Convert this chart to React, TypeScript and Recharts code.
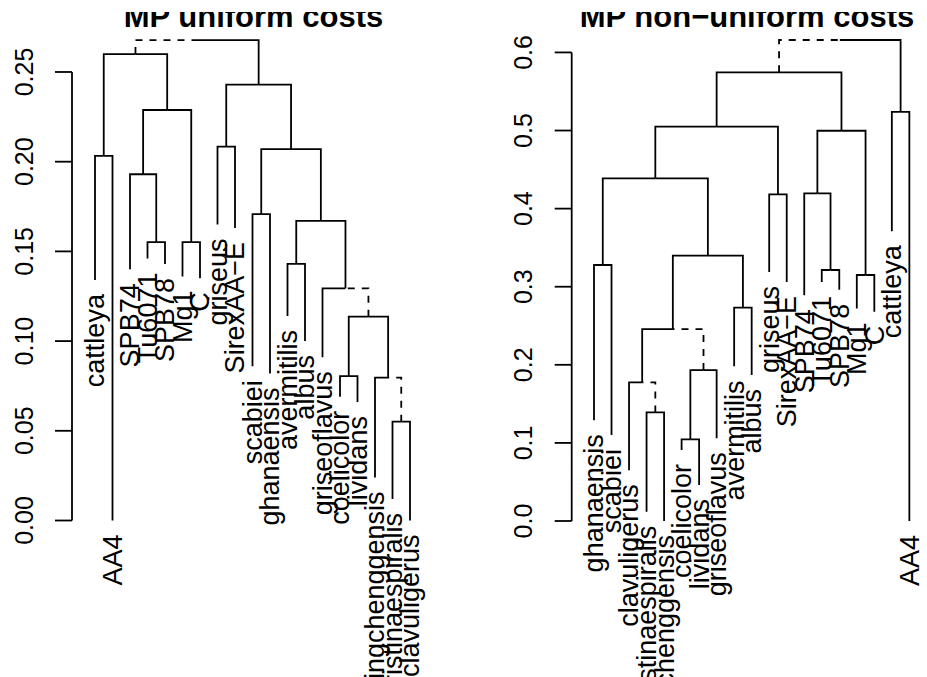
import React from 'react';
import { ComposedChart, Line, XAxis, YAxis, Scatter, ReferenceLine, Customized } from 'recharts';

const FONT = '"Liberation Sans", Arial, Helvetica, sans-serif';

// ---------- Left panel: MP uniform costs ----------
const uniformTitle = 'MP uniform costs';
const uniformLeaves = [
  'cattleya', 'AA4', 'SPB74', 'Tu6071', 'SPB78', 'Mg1', 'C', 'griseus', 'SirexAA\u2212E',
  'scabiei', 'ghanaensis', 'avermitilis', 'albus', 'griseoflavus', 'coelicolor', 'lividans',
  'bingchenggensis', 'pristinaespiralis', 'clavuligerus',
];
const uniformTips = [
  0.134, 0.0, 0.140, 0.146, 0.143, 0.136, 0.135, 0.165, 0.163,
  0.086, 0.082, 0.114, 0.100, 0.091, 0.069, 0.066,
  0.024, 0.012, 0.0,
];
// merges: negative = leaf (1-based), positive = earlier merge row (1-based)
const uniformMerges: [number, number][] = [
  [-1, -2], [-4, -5], [-3, 2], [-6, -7], [3, 4], [1, 5],
  [-8, -9], [-10, -11], [-12, -13], [-15, -16], [-18, -19], [-17, 11],
  [10, 12], [-14, 13], [9, 14], [8, 15], [7, 16], [6, 17],
];
const uniformHeights = [
  0.2032, 0.1552, 0.193, 0.1552, 0.2288, 0.260,
  0.2084, 0.1708, 0.143, 0.0805, 0.0551, 0.0796,
  0.1136, 0.1294, 0.167, 0.207, 0.243, 0.2678,
];
const uniformDashed = [6, 11, 13];
const uniformTicks = [0, 0.05, 0.1, 0.15, 0.2, 0.25];

// ---------- Right panel: MP non-uniform costs ----------
const nonUniformTitle = 'MP non\u2212uniform costs';
const nonUniformLeaves = [
  'ghanaensis', 'scabiei', 'clavuligerus', 'pristinaespiralis', 'bingchenggensis', 'coelicolor',
  'lividans', 'griseoflavus', 'avermitilis', 'albus', 'griseus', 'SirexAA\u2212E', 'SPB74',
  'Tu6071', 'SPB78', 'Mg1', 'C', 'cattleya', 'AA4',
];
const nonUniformTips = [
  0.129, 0.110, 0.065, 0.012, 0.0, 0.091,
  0.046, 0.106, 0.198, 0.187, 0.319, 0.306, 0.289,
  0.306, 0.296, 0.272, 0.268, 0.371, 0.0,
];
const nonUniformMerges: [number, number][] = [
  [-1, -2], [-4, -5], [-3, 2], [-6, -7], [4, -8], [3, 5],
  [-9, -10], [6, 7], [1, 8], [-11, -12], [9, 10], [-14, -15],
  [-13, 12], [-16, -17], [13, 14], [11, 15], [-18, -19], [16, 17],
];
const nonUniformHeights = [
  0.3278, 0.139, 0.1776, 0.1046, 0.1933, 0.2458,
  0.2731, 0.3397, 0.4388, 0.4183, 0.5049, 0.3214,
  0.4196, 0.315, 0.4997, 0.5745, 0.524, 0.6159,
];
const nonUniformDashed = [2, 5, 16];
const nonUniformTicks = [0, 0.1, 0.2, 0.3, 0.4, 0.5, 0.6];

type Pt = { x: number; y: number };
type Edge = { key: string; dashed: boolean; points: Pt[] };

function buildEdges(tips: number[], merges: [number, number][], heights: number[], dashed: number[]): Edge[] {
  const nodeX: number[] = [];
  const pos = (id: number): Pt => (id < 0 ? { x: -id, y: tips[-id - 1] } : { x: nodeX[id - 1], y: heights[id - 1] });
  merges.forEach(([a, b], k) => {
    nodeX[k] = (pos(a).x + pos(b).x) / 2;
  });
  const edges: Edge[] = [];
  merges.forEach(([a, b], k) => {
    const px = nodeX[k];
    const h = heights[k];
    [a, b].forEach((c) => {
      const p = pos(c);
      edges.push({
        key: `e${k}_${c}`,
        dashed: c > 0 && dashed.includes(c),
        points: [{ x: p.x, y: p.y }, { x: p.x, y: h }, { x: px, y: h }],
      });
    });
  });
  return edges;
}

const TickLabel = (props: any) => {
  const { x, y, payload, digits } = props;
  const tx = x - 31;
  return (
    <text x={tx} y={y} transform={`rotate(-90 ${tx} ${y})`} textAnchor="middle" dy="0.35em"
      fontSize={25} fontFamily={FONT} fill="#000">
      {Number(payload.value).toFixed(digits)}
    </text>
  );
};

const LeafLabel = (props: any) => {
  const { cx, cy, payload } = props;
  const ty = cy + 14;
  return (
    <text x={cx} y={ty} transform={`rotate(-90 ${cx} ${ty})`} textAnchor="end" dy="0.35em"
      fontSize={27} fontFamily={FONT} fill="#000">
      {payload.name}
    </text>
  );
};

type PanelProps = {
  id: string;
  title: string;
  leaves: string[];
  tips: number[];
  merges: [number, number][];
  heights: number[];
  dashed: number[];
  ticks: number[];
  digits: number;
  xLim: [number, number];
  yLim: [number, number];
  left: number;
  width: number;
  axisWidth: number;
  marginTop: number;
  marginBottom: number;
  titleX: number;
};

function Dendrogram(p: PanelProps) {
  const edges = buildEdges(p.tips, p.merges, p.heights, p.dashed);
  const leafData = p.leaves.map((name, i) => ({ x: i + 1, y: p.tips[i], name }));
  const topTick = p.ticks[p.ticks.length - 1];
  const clipId = `title-clip-${p.id}`;
  return (
    <div style={{ position: 'absolute', left: p.left, top: 0 }}>
      <ComposedChart width={p.width} height={677}
        margin={{ top: p.marginTop, right: 0, bottom: p.marginBottom, left: 0 }}>
        <XAxis type="number" dataKey="x" domain={p.xLim} hide allowDataOverflow={false} />
        <YAxis type="number" dataKey="y" domain={p.yLim} ticks={p.ticks} interval={0}
          width={p.axisWidth} tickSize={17} tickMargin={0} axisLine={false}
          tickLine={{ stroke: '#000', strokeWidth: 1.8 }}
          tick={<TickLabel digits={p.digits} />} />
        <ReferenceLine segment={[{ x: p.xLim[0], y: 0 }, { x: p.xLim[0], y: topTick }]}
          stroke="#000" strokeWidth={1.8} ifOverflow="visible" />
        {edges.map((e) => (
          <Line key={e.key} data={e.points} dataKey="y" type="linear" stroke="#000" strokeWidth={1.8}
            strokeDasharray={e.dashed ? '7 7' : undefined} dot={false} activeDot={false}
            isAnimationActive={false} legendType="none" strokeLinecap="butt" />
        ))}
        <Scatter data={leafData} dataKey="y" shape={LeafLabel} isAnimationActive={false} legendType="none" />
        <Customized component={() => (
          <g>
            <defs>
              <clipPath id={clipId}>
                <rect x={0} y={12} width={p.width} height={40} />
              </clipPath>
            </defs>
            <text x={p.titleX} y={27} textAnchor="middle" fontSize={31} fontWeight="bold"
              fontFamily={FONT} fill="#000" clipPath={`url(#${clipId})`}>{p.title}</text>
          </g>
        )} />
      </ComposedChart>
    </div>
  );
}

export default function App() {
  return (
    <div style={{ position: 'absolute', left: 0, top: 0, width: 927, height: 677, background: '#fff', overflow: 'hidden' }}>
      <Dendrogram
        id="uniform"
        title={uniformTitle}
        leaves={uniformLeaves}
        tips={uniformTips}
        merges={uniformMerges}
        heights={uniformHeights}
        dashed={uniformDashed}
        ticks={uniformTicks}
        digits={2}
        xLim={[1 - 23 / 17.5, 1 + 368 / 17.5]}
        yLim={[0, 0.27]}
        left={0}
        width={463}
        axisWidth={72}
        marginTop={36.1}
        marginBottom={156.5}
        titleX={253.5}
      />
      <Dendrogram
        id="nonuniform"
        title={nonUniformTitle}
        leaves={nonUniformLeaves}
        tips={nonUniformTips}
        merges={nonUniformMerges}
        heights={nonUniformHeights}
        dashed={nonUniformDashed}
        ticks={nonUniformTicks}
        digits={1}
        xLim={[1 - 22.3 / 17.52, 1 + 333 / 17.52]}
        yLim={[0, 0.63]}
        left={463}
        width={464}
        axisWidth={108.7}
        marginTop={29}
        marginBottom={156}
        titleX={284}
      />
    </div>
  );
}
